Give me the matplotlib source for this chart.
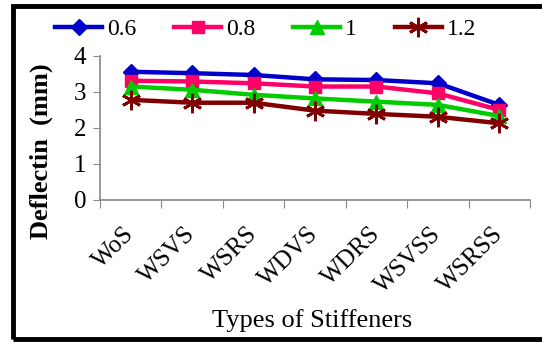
import matplotlib
matplotlib.use("Agg")
import matplotlib.pyplot as plt
from matplotlib.patches import Rectangle

# data
stiffeners = ["WoS", "WSVS", "WSRS", "WDVS", "WDRS", "WSVSS", "WSRSS"]
labels = ["0.6", "0.8", "1", "1.2"]
d_06 = [3.56, 3.52, 3.47, 3.35, 3.33, 3.24, 2.64]
d_08 = [3.31, 3.29, 3.24, 3.15, 3.15, 2.96, 2.50]
d_10 = [3.15, 3.06, 2.92, 2.82, 2.73, 2.64, 2.33]
d_12 = [2.78, 2.70, 2.70, 2.48, 2.39, 2.31, 2.13]

plt.rcParams['font.family'] = ['Liberation Serif', 'DejaVu Serif']

fig = plt.figure(figsize=(5.42, 3.43), dpi=100)
ax = fig.add_axes([0.1845, 0.417, 0.7935, 0.42])

x = list(range(len(stiffeners)))
styles = [
    (d_06, '#0000c8', 'D', 8),
    (d_08, '#ff0066', 's', 9),
    (d_10, '#00cc00', '^', 10),
    (d_12, '#800000', (6, 2, 0), 14),
]
handles = []
for (vals, col, mk, ms), lab in zip(styles, labels):
    h, = ax.plot(x, vals, color=col, lw=3.2, marker=mk, markersize=ms,
                 markeredgewidth=2 if lab == "1.2" else 1, markeredgecolor=col,
                 label=lab)
    handles.append(h)

ax.set_xlim(-0.5, len(stiffeners) - 0.5)
ax.set_ylim(0, 4)
ax.set_yticks([0, 1, 2, 3, 4])
ax.set_xticks([i - 0.5 for i in range(len(stiffeners) + 1)])
ax.set_xticklabels([])
ax.set_xticks(x, minor=True)
ax.set_xticklabels(stiffeners, minor=True, rotation=45, ha='right', va='center',
                   rotation_mode='anchor', fontsize=18)
ax.tick_params(axis='x', which='minor', length=0, pad=22)
ax.tick_params(axis='x', which='major', length=6, color='#888888', direction='out')
ax.tick_params(axis='y', length=5, color='#888888', labelsize=18, pad=5)
for s in ['top', 'right']:
    ax.spines[s].set_visible(False)
for s in ['left', 'bottom']:
    ax.spines[s].set_color('#888888')
    ax.spines[s].set_linewidth(1.2)

fig.text(0.077, 0.56, "Deflectin  (mm)", rotation=90, ha='center', va='center',
         fontsize=19, fontweight='bold')
fig.text(0.575, 0.065, "Types of Stiffeners", ha='center', va='center', fontsize=19)

fig.legend(handles=handles, loc='center', bbox_to_anchor=(0.49, 0.915), ncol=4,
           frameon=False, fontsize=17, handlelength=2.0, columnspacing=1.6,
           handletextpad=0.2)

# outer frame
fig.patches.append(Rectangle((0.024, 0.012), 1.2, 0.97, transform=fig.transFigure,
                             fill=False, edgecolor='black', lw=3.5))

fig.savefig("out.png", dpi=100)
